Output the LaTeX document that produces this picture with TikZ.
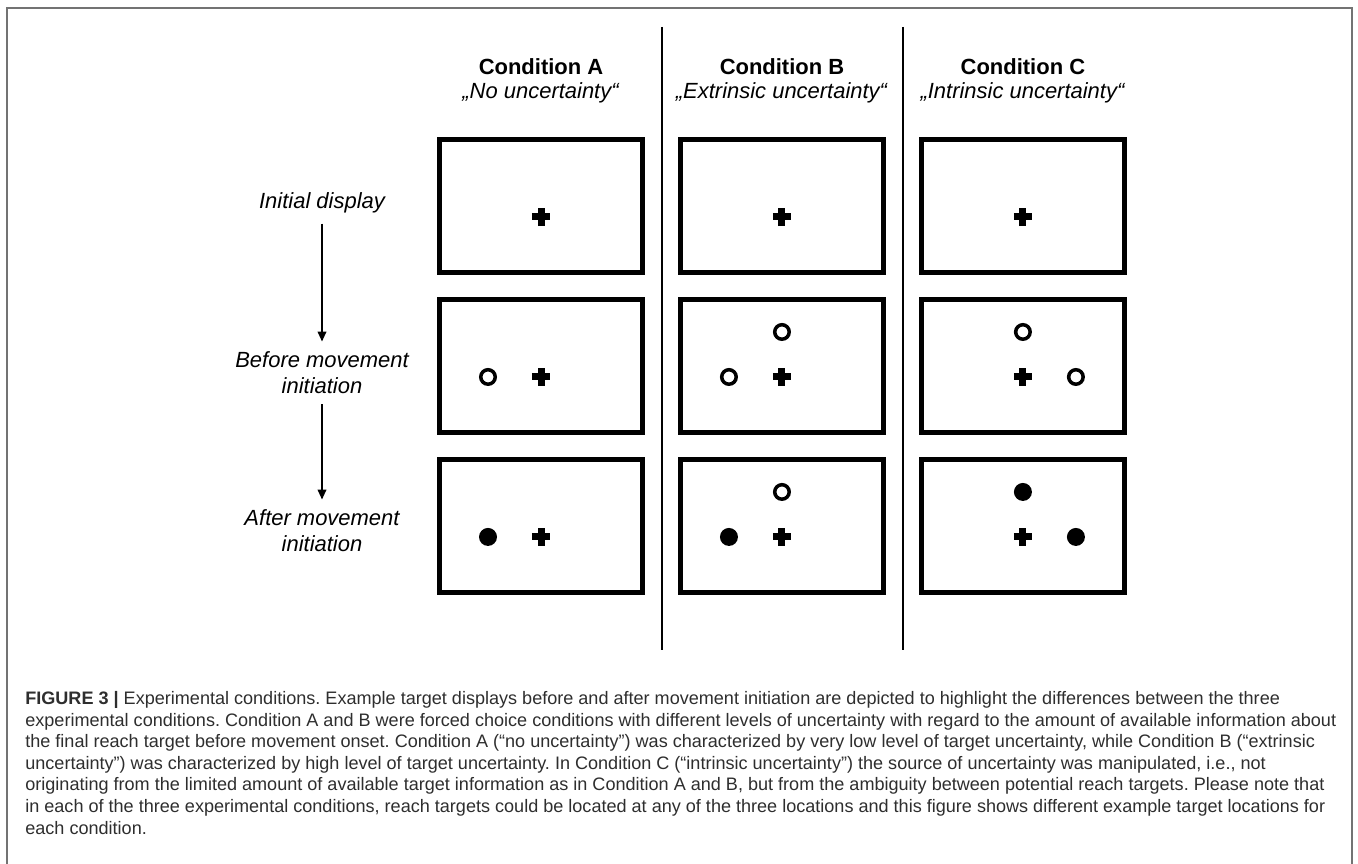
\documentclass[tikz,border=0pt]{standalone}
\usepackage{fontspec}
\setmainfont{Liberation Sans}
\usepackage{tikz}
\usetikzlibrary{shapes.misc, arrows.meta, positioning, calc}
\tikzset{
  screen/.style={rectangle, draw=black, line width=0.1cm, minimum width=4.06cm, minimum height=2.66cm},
  fixcross/.style={cross out, draw=black, line width=0.14cm, minimum size=0.255cm, inner sep=0pt, outer sep=0pt, rotate=45},
  cue/.style={circle, draw=black, line width=0.07cm, minimum size=0.29cm, inner sep=0pt},
  target/.style={circle, fill=black, minimum size=0.36cm, inner sep=0pt},
  head/.style={align=center, inner sep=0pt, font=\fontsize{12.5}{13.7}\selectfont},
  phase/.style={align=center, inner sep=0.2cm, font=\fontsize{12.5}{14.8}\selectfont\itshape},
  arrowline/.style={-{Triangle[length=0.2cm, width=0.17cm]}, line width=0.04cm},
  divider/.style={line width=0.04cm},
}

\begin{document}
\frenchspacing
\begin{tikzpicture}[x=0.02cm, y=-0.02cm, node distance=0.44cm and 0.66cm]
\useasboundingbox (0,0) rectangle (1358,864);
\draw[black!55, line width=0.03cm] (7,864) -- (7,8) -- (1352,8) -- (1352,864);

\node[screen] (a1) at (541,206) {};
\node[screen, below=of a1] (a2) {};
\node[screen, below=of a2] (a3) {};
\node[screen, right=of a1] (b1) {};
\node[screen, below=of b1] (b2) {};
\node[screen, below=of b2] (b3) {};
\node[screen, right=of b1] (c1) {};
\node[screen, below=of c1] (c2) {};
\node[screen, below=of c2] (c3) {};

\node[head, above=0.68cm of a1] (headA) {\textbf{Condition A}\\\textit{„No uncertainty“}};
\node[head, above=0.68cm of b1] (headB) {\textbf{Condition B}\\\textit{„Extrinsic uncertainty“}};
\node[head, above=0.68cm of c1] (headC) {\textbf{Condition C}\\\textit{„Intrinsic uncertainty“}};

\foreach \col in {a,b,c}
  \foreach \row in {1,2,3}
    \node[fixcross] (\col\row x) at ($(\col\row)+(0,11)$) {};

\node[cue] (a2left) at ($(a2)+(-53,11)$) {};
\node[cue] (b2top) at ($(b2)+(0,-34)$) {};
\node[cue] (b2left) at ($(b2)+(-53,11)$) {};
\node[cue] (c2top) at ($(c2)+(0,-34)$) {};
\node[cue] (c2right) at ($(c2)+(53,11)$) {};
\node[target] (a3left) at ($(a3)+(-53,11)$) {};
\node[cue] (b3top) at ($(b3)+(0,-34)$) {};
\node[target] (b3left) at ($(b3)+(-53,11)$) {};
\node[target] (c3top) at ($(c3)+(0,-34)$) {};
\node[target] (c3right) at ($(c3)+(53,11)$) {};

\node[phase] (initial) at (322,203) {Initial display};
\node[phase] (before) at (322,373) {Before movement\\initiation};
\node[phase] (after) at (322,531) {After movement\\initiation};
\draw[arrowline] (initial) -- (before);
\draw[arrowline] (before) -- (after);

\foreach \xd in {662,903}
  \draw[divider] (\xd,27) -- (\xd,650);

\node[anchor=north west, align=left, inner sep=0pt, text=black!82, font=\fontsize{10.28}{12.3}\selectfont] (caption) at (25,691) {\textbf{FIGURE 3 |} Experimental conditions. Example target displays before and after movement initiation are depicted to highlight the differences between the three\\
experimental conditions. Condition A and B were forced choice conditions with different levels of uncertainty with regard to the amount of available information about\\
the final reach target before movement onset. Condition A (“no uncertainty”) was characterized by very low level of target uncertainty, while Condition B (“extrinsic\\
uncertainty”) was characterized by high level of target uncertainty. In Condition C (“intrinsic uncertainty”) the source of uncertainty was manipulated, i.e., not\\
originating from the limited amount of available target information as in Condition A and B, but from the ambiguity between potential reach targets. Please note that\\
in each of the three experimental conditions, reach targets could be located at any of the three locations and this figure shows different example target locations for\\
each condition.};
\end{tikzpicture}
\end{document}
